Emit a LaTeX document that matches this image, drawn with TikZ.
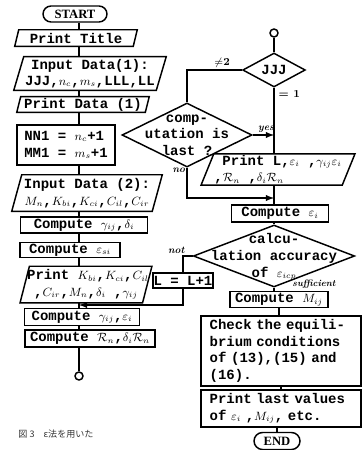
\documentclass[tikz,border=0pt]{standalone}
\usepackage{fontspec}
\usepackage{amssymb}
\usepackage{amsmath}
\usetikzlibrary{shapes.geometric,shapes.misc}
\newfontfamily\twfont{Liberation Mono}
\newfontfamily\jpfont{Noto Sans CJK JP}
\newfontfamily\capsfont{Liberation Serif}
\DeclareMathSizes{10.5}{9}{6.5}{5}

\tikzset{
  fc/.style={line width=1.1pt},
  tw/.style={font=\fontsize{10.5}{12.5}\selectfont\twfont\bfseries},
  box/.style={draw, rectangle, fc, tw, inner sep=0.5pt, align=center},
  io/.style={rectangle, tw, inner sep=0.5pt, align=center},
  dec/.style={draw, diamond, fc, inner sep=0.5pt},
  term/.style={draw, rounded rectangle, fc, inner sep=0pt, font=\fontsize{9.5}{10}\selectfont\capsfont\bfseries},
  con/.style={draw, circle, fc, inner sep=0pt, minimum size=6pt},
  txt/.style={tw, inner sep=0pt, align=center},
  lab/.style={font=\fontsize{7.5}{8}\selectfont\bfseries\itshape, inner sep=1pt},
  lab2/.style={font=\fontsize{8}{9}\selectfont\bfseries, inner sep=1pt},
}
% parallelogram round an io node: #1 node, #2 slant
\newcommand{\iopath}[2]{\draw[fc] ([xshift=#2]#1.north west) -- (#1.north east) -- ([xshift=-#2]#1.south east) -- (#1.south west) -- cycle;}

\begin{document}
\begin{tikzpicture}[x=0.75pt,y=0.75pt,yscale=-1,xscale=1]
\useasboundingbox (0,0) rectangle (364,450);
\coordinate (ls) at (79,0);
\coordinate (rs) at (274,0);

% left column
\node[term, minimum width=48pt, minimum height=12pt] (start) at (75,14) {START};
\node[io, minimum width=91.5pt, minimum height=12pt] (title) at (76,38) {Print Title};
\iopath{title}{3pt}
\node[io, minimum width=114pt, minimum height=25pt] (in1) at (90,73.5) {Input Data(1):\\JJJ,$n_c$,$m_s$,LLL,LL};
\iopath{in1}{7.5pt}
\node[io, minimum width=99pt, minimum height=11.5pt] (pd1) at (83,104.5) {Print Data (1)};
\iopath{pd1}{3pt}
\node[box, minimum width=73.5pt, minimum height=30pt, align=left] (nn) at (66,145) {NN1 = $n_c$+1\\MM1 = $m_s$+1};
\node[io, minimum width=112.5pt, minimum height=27pt] (in2) at (87,193) {Input Data (2):\\$M_n$,$K_{bi}$,$K_{ci}$,$C_{il}$,$C_{ir}$};
\iopath{in2}{7.5pt}
\node[box, minimum width=95pt, minimum height=12pt] (cgd) at (84,225) {Compute $\gamma_{ij}$,$\delta_i$};
\node[box, minimum width=75pt, minimum height=11.5pt] (cesi) at (70,250) {Compute $\varepsilon_{si}$};
\node[io, minimum width=98.5pt, minimum height=27pt] (prk) at (86,284.5) {\hspace*{3pt}Print $K_{bi}$,$K_{ci}$,$C_{il}$\\,$C_{ir}$,$M_n$,$\delta_i$ ,$\gamma_{ij}$};
\iopath{prk}{7pt}
\node[box, minimum width=86pt, minimum height=12.75pt] (cge) at (82,317) {Compute $\gamma_{ij}$,$\varepsilon_i$};
\node[box, minimum width=97.5pt, minimum height=12.75pt] (crn) at (90,338.5) {Compute $\mathcal{R}_n$,$\delta_i\mathcal{R}_n$};
\node[con] (conA) at (79,376) {};

\draw[fc] (start.south -| ls) -- (title.north -| ls);
\draw[fc] (title.south -| ls) -- (in1.north -| ls);
\draw[fc] (in1.south -| ls) -- (pd1.north -| ls);
\draw[fc] (pd1.south -| ls) -- (nn.north -| ls);
\draw[fc] (nn.south -| ls) -- (in2.north -| ls);
\draw[fc] (in2.south -| ls) -- (cgd.north -| ls);
\draw[fc] (cgd.south -| ls) -- (cesi.north -| ls);
\draw[fc] (cesi.south -| ls) -- (prk.north -| ls);
\draw[fc] (prk.south -| ls) -- (cge.north -| ls);
\draw[fc] (cge.south -| ls) -- (crn.north -| ls);
\draw[fc] (crn.south -| ls) -- (conA.north);

% right column
\node[con] (conB) at (274,33) {};
\node[dec, minimum width=47pt, minimum height=25.5pt] (jjj) at (274,70) {};
\node[txt] (jjj-t) at (274,70) {JJJ};
\node[dec, minimum width=97.5pt, minimum height=48pt] (comp) at (187,135) {};
\node[txt] (comp-t) at (187,135) {comp-\\utation is\\last ?};
\node[io, minimum width=115pt, minimum height=22pt, align=left] (prl) at (278,169.5) {\hspace*{6pt}Print L,$\varepsilon_i$ ,$\gamma_{ij}\varepsilon_i$\\,$\mathcal{R}_n$ ,$\delta_i\mathcal{R}_n$\hspace*{40pt}};
\iopath{prl}{9.5pt}
\node[box, minimum width=73pt, minimum height=12.75pt] (cei) at (280,213.5) {Compute $\varepsilon_i$};
\node[dec, minimum width=121pt, minimum height=46.5pt] (calc) at (274,256) {};
\node[txt] (calc-t) at (274,257) {calcu-\\lation accuracy\\of $\varepsilon_{icp}$};
\node[box, minimum width=45pt, minimum height=11.25pt] (lpl) at (183,280.5) {L = L+1};
\node[box, minimum width=73.5pt, minimum height=12pt] (cmij) at (279,299.5) {Compute $M_{ij}$};
\node[box, minimum width=120pt, minimum height=52.5pt, text width=107pt, inner xsep=6.5pt, align=left] (check) at (281,351) {Check the equili-\\brium conditions\\of (13),(15) and\\(16).};
\node[box, minimum width=120pt, minimum height=27.75pt, text width=107pt, inner xsep=6.5pt, align=left] (prlast) at (281,408.5) {Print last values\\of $\varepsilon_i$ ,$M_{ij}$, etc.};
\node[term, minimum width=34.5pt, minimum height=12.75pt] (finish) at (277,441) {END};

\coordinate (noj) at (274,198);
\coordinate (loop) at (79,305);

\draw[fc] (conB) -- (jjj.north);
\draw[fc] (jjj.west) -| (comp.north) node[lab2, pos=0.18, above] {$\neq$2};
\draw[fc] (jjj.south) -- (jjj.south |- prl.north) node[lab2, pos=0.09, right, xshift=2pt] {= 1};
\draw[fc,-latex] (comp.east) -- (comp.east -| rs) node[lab, midway, above, xshift=2pt] {yes};
\draw[fc,-latex] (comp.south) |- (noj) node[lab, pos=0, below left, yshift=1pt] {no};
\draw[fc] (prl.south -| rs) -- (cei.north -| rs);
\draw[fc] (cei.south -| rs) -- (calc.north);
\draw[fc] (calc.west) -| (lpl.north) node[lab, pos=0.5, above, xshift=-5pt] {not};
\draw[fc,-latex] (lpl.south) |- (loop);
\draw[fc] (calc.south) -- (calc.south |- cmij.north);
\node[lab, font=\fontsize{7}{8}\selectfont\bfseries\itshape] (suf) at (314,284) {sufficient};
\draw[fc] (cmij.south) -- (cmij.south |- check.north);
\draw[fc] (check.south) -- (check.south |- prlast.north);
\draw[fc] (prlast.south -| finish) -- (finish.north);

% caption
\node[font=\jpfont\fontsize{6.8}{7}\selectfont, text=black!80, inner sep=0pt] (cap) at (56,434) {図 3\quad ε法を用いた};

\end{tikzpicture}
\end{document}
